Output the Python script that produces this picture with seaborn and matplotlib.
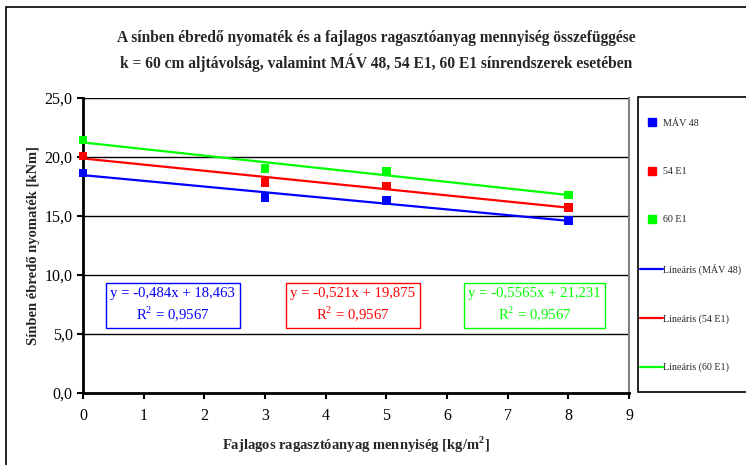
import numpy as np
import pandas as pd
import matplotlib
matplotlib.use("Agg")
import matplotlib.pyplot as plt
from matplotlib.patches import Rectangle
from matplotlib.lines import Line2D
from matplotlib.ticker import FuncFormatter, MultipleLocator
import seaborn as sns

# Specific adhesive amount [kg/m2]
amount = [0, 3, 5, 8]
# Rail moment [kNm] for each rail system
mav48 = [18.65, 16.55, 16.30, 14.60]
e54 = [20.08, 17.82, 17.55, 15.72]
e60 = [21.45, 19.03, 18.75, 16.79]

series_names = ["MÁV 48", "54 E1", "60 E1"]
series_colors = ["#0000FF", "#FF0000", "#00FF00"]

# Linear trend coefficients and fit quality
slopes = [-0.484, -0.521, -0.5565]
intercepts = [18.463, 19.875, 21.231]
r_squared = [0.9567, 0.9567, 0.9567]
slope_text = ["-0,484", "-0,521", "-0,5565"]
intercept_text = ["18,463", "19,875", "21,231"]
r2_text = ["0,9567", "0,9567", "0,9567"]
label_x = [1.48, 4.45, 7.44]
label_y = [7.45, 7.45, 7.45]

points = pd.DataFrame({
    "amount": amount * 3,
    "moment": mav48 + e54 + e60,
    "series": [n for n in series_names for _ in amount],
})

x_span = np.array([min(amount), max(amount)])
trend = pd.DataFrame({
    "amount": np.tile(x_span, 3),
    "moment": np.concatenate([s * x_span + b for s, b in zip(slopes, intercepts)]),
    "series": [n for n in series_names for _ in x_span],
})

sns.set_theme(style="white")
plt.rcParams["font.family"] = ["Liberation Serif", "DejaVu Serif"]
plt.rcParams["mathtext.fontset"] = "custom"
plt.rcParams["mathtext.rm"] = "Liberation Serif"
plt.rcParams["mathtext.bf"] = "Liberation Serif:bold"

W, H = 746, 465
fig = plt.figure(figsize=(W / 100, H / 100), dpi=100)
ax = fig.add_axes([83 / W, 1 - 393 / H, (629 - 83) / W, (393 - 98) / H])

palette = dict(zip(series_names, series_colors))
sns.lineplot(data=trend, x="amount", y="moment", hue="series", palette=palette,
             linewidth=1.6, legend=False, ax=ax, zorder=3)
sns.scatterplot(data=points, x="amount", y="moment", hue="series", palette=palette,
                marker="s", s=38, linewidth=0, legend=False, ax=ax, zorder=4,
                clip_on=False)

ax.set_xlim(0, 9)
ax.set_ylim(0, 25)
ax.xaxis.set_major_locator(MultipleLocator(1))
ax.yaxis.set_major_locator(MultipleLocator(5))
ax.yaxis.set_major_formatter(FuncFormatter(lambda v, _: f"{v:.1f}".replace(".", ",")))
ax.grid(axis="y", color="black", linewidth=1.0)
ax.set_axisbelow(True)

for side in ["left", "bottom"]:
    ax.spines[side].set_color("black")
    ax.spines[side].set_linewidth(2.0)
ax.spines["top"].set_visible(False)
ax.spines["right"].set_color("#808080")
ax.spines["right"].set_linewidth(1.5)

ax.tick_params(axis="both", direction="out", length=4.5, width=1.5, color="black",
               labelsize=11.5, labelcolor="black", bottom=True, left=True)
ax.tick_params(axis="y", pad=3)
ax.tick_params(axis="x", pad=6)

ax.set_xlabel("Fajlagos ragasztóanyag mennyiség [kg/m$^\\mathbf{2}$]", fontsize=10.5,
              fontweight="bold", labelpad=8)
ax.set_ylabel("Sínben ébredő nyomaték [kNm]", fontsize=10.5, fontweight="bold",
              labelpad=3)

fig.text(376 / W, 1 - 51 / H,
         "A sínben ébredő nyomaték és a fajlagos ragasztóanyag mennyiség összefüggése\n"
         "k = 60 cm aljtávolság, valamint MÁV 48, 54 E1, 60 E1 sínrendszerek esetében",
         ha="center", va="center", fontsize=11.2, fontweight="bold", linespacing=1.5)

# Trend equations in coloured boxes
for i, c in enumerate(series_colors):
    txt = f"y = {slope_text[i]}x + {intercept_text[i]}\nR$^2$ = {r2_text[i]}"
    ax.text(label_x[i], label_y[i], txt, color=c, fontsize=10.6, ha="center",
            va="center", linespacing=1.3, zorder=5,
            bbox=dict(boxstyle="square,pad=0.3", facecolor="white", edgecolor=c,
                      linewidth=1.0))

# Legend panel
fig.patches.append(Rectangle((638 / W, 1 - 392 / H), (760 - 638) / W, (392 - 97) / H,
                             transform=fig.transFigure, facecolor="white",
                             edgecolor="black", linewidth=1.2, zorder=1))
handles = [Line2D([], [], marker="s", linestyle="none", color=c, markersize=6)
           for c in series_colors]
handles += [Line2D([], [], color=c, linewidth=1.6) for c in series_colors]
labels = series_names + [f"Lineáris ({n})" for n in series_names]
leg = fig.legend(handles, labels, loc="upper left", bbox_to_anchor=(640 / W, 1 - 119 / H),
                 frameon=False, fontsize=7.2, labelspacing=3.92, handlelength=2.3,
                 handletextpad=0.0, borderaxespad=0, borderpad=0)

# Outer chart border
fig.patches.append(Rectangle((6 / W, -0.05), 1.1, 1 - 7 / H + 0.05,
                             transform=fig.transFigure, facecolor="none",
                             edgecolor="black", linewidth=1.2, zorder=0))

fig.savefig("out.png", dpi=100)
